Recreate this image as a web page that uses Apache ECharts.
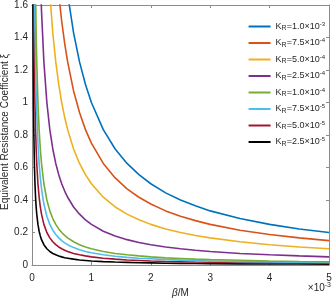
<!DOCTYPE html>
<html><head><meta charset="utf-8">
<script src="https://cdn.jsdelivr.net/npm/echarts@6/dist/echarts.min.js"></script>
<style>html,body{margin:0;padding:0;background:#fff}#c{width:335px;height:298px}</style>
</head><body><div id="c"></div>
<script>
// beta in units of 1e-3 M
var betaVals = [0.015,0.02,0.025,0.03,0.04,0.05,0.06,0.07,0.08,0.1,0.12,0.14,0.16,0.2,0.25,0.3,0.35,0.4,0.45,0.5,0.55,0.6,0.7,0.8,0.9,1,1.2,1.4,1.6,1.8,2,2.25,2.5,2.75,3,3.5,4,4.5,5];
var seriesNames = ['1.0×10{sup|-3}','7.5×10{sup|-4}','5.0×10{sup|-4}','2.5×10{sup|-4}','1.0×10{sup|-4}','7.5×10{sup|-5}','5.0×10{sup|-5}','2.5×10{sup|-5}'];
var kr1e3 = [null,null,null,null,null,null,null,null,null,null,null,null,null,null,null,null,null,null,null,null,1.818,1.667,1.429,1.25,1.111,1,0.833,0.714,0.625,0.556,0.5,0.444,0.4,0.364,0.333,0.286,0.25,0.222,0.2];
var kr75e4 = [null,null,null,null,null,null,null,null,null,null,null,null,null,null,null,null,null,null,1.667,1.5,1.364,1.25,1.071,0.938,0.833,0.75,0.625,0.536,0.469,0.417,0.375,0.333,0.3,0.273,0.25,0.214,0.188,0.167,0.15];
var kr5e4 = [null,null,null,null,null,null,null,null,null,null,null,null,null,null,null,1.667,1.429,1.25,1.111,1,0.909,0.833,0.714,0.625,0.556,0.5,0.417,0.357,0.313,0.278,0.25,0.222,0.2,0.182,0.167,0.143,0.125,0.111,0.1];
var kr25e4 = [null,null,null,null,null,null,null,null,null,null,null,1.786,1.563,1.25,1,0.833,0.714,0.625,0.556,0.5,0.455,0.417,0.357,0.313,0.278,0.25,0.208,0.179,0.156,0.139,0.125,0.111,0.1,0.091,0.083,0.071,0.063,0.056,0.05];
var kr1e4 = [null,null,null,null,null,null,1.667,1.429,1.25,1,0.833,0.714,0.625,0.5,0.4,0.333,0.286,0.25,0.222,0.2,0.182,0.167,0.143,0.125,0.111,0.1,0.083,0.071,0.063,0.056,0.05,0.044,0.04,0.036,0.033,0.029,0.025,0.022,0.02];
var kr75e5 = [null,null,null,null,1.875,1.5,1.25,1.071,0.938,0.75,0.625,0.536,0.469,0.375,0.3,0.25,0.214,0.188,0.167,0.15,0.136,0.125,0.107,0.094,0.083,0.075,0.063,0.054,0.047,0.042,0.038,0.033,0.03,0.027,0.025,0.021,0.019,0.017,0.015];
var kr5e5 = [null,null,null,1.667,1.25,1,0.833,0.714,0.625,0.5,0.417,0.357,0.313,0.25,0.2,0.167,0.143,0.125,0.111,0.1,0.091,0.083,0.071,0.063,0.056,0.05,0.042,0.036,0.031,0.028,0.025,0.022,0.02,0.018,0.017,0.014,0.013,0.011,0.01];
var kr25e5 = [1.667,1.25,1,0.833,0.625,0.5,0.417,0.357,0.313,0.25,0.208,0.179,0.156,0.125,0.1,0.083,0.071,0.063,0.056,0.05,0.045,0.042,0.036,0.031,0.028,0.025,0.021,0.018,0.016,0.014,0.013,0.011,0.01,0.009,0.008,0.007,0.006,0.006,0.005];
var xTicks = [0,1,2,3,4,5];
var yTicks = [0,0.2,0.4,0.6,0.8,1,1.2,1.4,1.6];
var colors = ['#0072BD','#D95319','#EDB120','#7E2F8E','#77AC30','#4DBEEE','#A2142F','#000000'];
var allVals = [kr1e3,kr75e4,kr5e4,kr25e4,kr1e4,kr75e5,kr5e5,kr25e5];

var chart = echarts.init(document.getElementById('c'), null, {renderer:'canvas'});
var font = 'Liberation Sans, Arial, sans-serif';
var series = allVals.map(function(vals, i){
  return {
    name: 'K{sub|R}=' + seriesNames[i],
    type: 'line',
    showSymbol: false,
    clip: true,
    connectNulls: false,
    lineStyle: {width: 1.6, color: colors[i]},
    itemStyle: {color: colors[i]},
    data: betaVals.map(function(b, j){ return [b, vals[j]]; }),
    z: 10 - i
  };
});
var axisLineStyle = {color:'#8c8c8c', width:1};
chart.setOption({
  animation: false,
  color: colors,
  grid: {left: 32, right: 6, top: 5, bottom: 33, containLabel: false, outerBoundsMode: 'none'},
  legend: {
    orient: 'vertical', right: 5, top: 16,
    itemWidth: 22, itemHeight: 2, itemGap: 5.5,
    icon: 'rect',
    textStyle: {fontFamily: font, fontSize: 9, color:'#262626',
      rich: {sub:{fontSize:7, verticalAlign:'bottom', padding:[4,0,0,0], fontFamily:font, color:'#262626'},
             sup:{fontSize:6, verticalAlign:'top', padding:[0,0,5,0], fontFamily:font, color:'#262626'}}},
    data: series.map(function(s){return s.name;})
  },
  xAxis: [{
    type: 'value', min: 0, max: 5, interval: 1,
    axisLine: {show:true, onZero:false, lineStyle: axisLineStyle},
    axisTick: {show:true, inside:true, length:3, lineStyle: axisLineStyle},
    splitLine: {show:false},
    axisLabel: {fontFamily: font, fontSize: 10, color:'#262626', margin: 8,
      formatter: function(v){ return xTicks.indexOf(v) >= 0 ? String(v) : ''; }},
    name: '{it|β}/M', nameLocation: 'middle', nameGap: 22,
    nameTextStyle: {fontFamily: font, fontSize: 10, color:'#262626',
      rich: {it:{fontStyle:'italic', fontFamily: font, fontSize:10, color:'#262626'}}}
  },{
    type: 'value', min: 0, max: 5, interval: 1, position: 'top',
    axisLine: {show:true, onZero:false, lineStyle: axisLineStyle},
    axisTick: {show:true, inside:true, length:3, lineStyle: axisLineStyle},
    axisLabel: {show:false}, splitLine: {show:false}
  }],
  yAxis: [{
    type: 'value', min: 0, max: 1.6, interval: 0.2,
    axisLine: {show:true, onZero:false, lineStyle: axisLineStyle},
    axisTick: {show:true, inside:true, length:3, lineStyle: axisLineStyle},
    splitLine: {show:false},
    axisLabel: {fontFamily: font, fontSize: 10, color:'#262626', margin: 4,
      formatter: function(v){ return String(Math.round(v*10)/10); }}
  },{
    type: 'value', min: 0, max: 1.6, interval: 0.2, position: 'right',
    axisLine: {show:true, onZero:false, lineStyle: axisLineStyle},
    axisTick: {show:true, inside:true, length:3, lineStyle: axisLineStyle},
    axisLabel: {show:false}, splitLine: {show:false}
  }],
  graphic: [{
    type: 'text', right: 4, top: 282,
    style: {text: '×10{sup|-3}', fontFamily: font, fontSize: 10, fill:'#262626',
      rich: {sup:{fontSize:7, verticalAlign:'top', padding:[0,0,6,0], fontFamily: font, fill:'#262626'}}}
  },{
    type: 'text', x: 5, y: 132, rotation: Math.PI/2,
    style: {text: 'Equivalent Resistance Coefficient ξ', fontFamily: font, fontSize: 10, fill:'#262626',
      align: 'center', verticalAlign: 'middle'}
  }],
  series: series
});
</script></body></html>
